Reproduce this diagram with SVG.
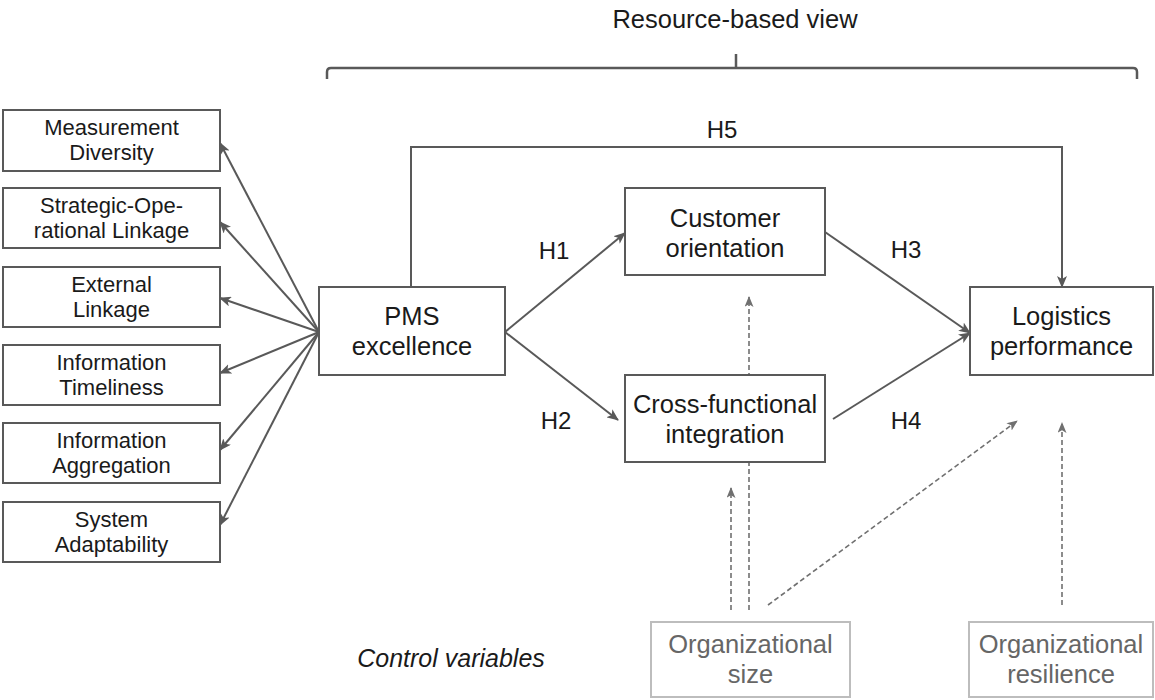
<svg xmlns="http://www.w3.org/2000/svg" width="1155" height="700" viewBox="0 0 1155 700">
<defs>
<style>
text{font-family:"Liberation Sans",Arial,sans-serif;fill:#1a1a1a;text-anchor:middle}
.box{fill:#fff;stroke:#595959;stroke-width:2}
.cbox{fill:#fff;stroke:#bdbdbd;stroke-width:2}
.m{font-size:25.5px}
.s{font-size:22px}
.h{font-size:24px}
.c{font-size:25.5px;fill:#666}
.ln{fill:none;stroke:#595959;stroke-width:2}
.dl{fill:none;stroke:#707070;stroke-width:1.6;stroke-dasharray:5 3}
</style>
<marker id="ah" viewBox="0 0 12 10" refX="11" refY="5" markerWidth="12" markerHeight="10" markerUnits="userSpaceOnUse" orient="auto">
<path d="M0,0 L12,5 L0,10 L3,5 z" fill="#595959"/>
</marker>
<marker id="ahd" viewBox="0 0 12 10" refX="11" refY="5" markerWidth="11" markerHeight="9" markerUnits="userSpaceOnUse" orient="auto">
<path d="M0,0 L12,5 L0,10 L3,5 z" fill="#707070"/>
</marker>
</defs>
<rect width="1155" height="700" fill="#fff"/>

<g id="rbv">
<text x="735" y="28" style="font-size:25.5px">Resource-based view</text>
<path d="M327,79 V72 Q327,68 331,68 H1133 Q1137,68 1137,72 V79 M736,68 V54" fill="none" stroke="#595959" stroke-width="2.5"/>
</g>

<g id="connectors">
<line class="ln" x1="319" y1="332" x2="220" y2="143" marker-end="url(#ah)"/>
<line class="ln" x1="319" y1="332" x2="220" y2="222" marker-end="url(#ah)"/>
<line class="ln" x1="319" y1="332" x2="220" y2="298" marker-end="url(#ah)"/>
<line class="ln" x1="319" y1="332" x2="220" y2="373" marker-end="url(#ah)"/>
<line class="ln" x1="319" y1="332" x2="220" y2="450" marker-end="url(#ah)"/>
<line class="ln" x1="319" y1="332" x2="220" y2="525" marker-end="url(#ah)"/>
<polyline class="ln" points="411,287 411,147 1062,147 1062,287" marker-end="url(#ah)"/>
<line class="ln" x1="505" y1="332" x2="625" y2="233" marker-end="url(#ah)"/>
<line class="ln" x1="505" y1="332" x2="618" y2="420" marker-end="url(#ah)"/>
<line class="ln" x1="825" y1="232" x2="970" y2="333" marker-end="url(#ah)"/>
<line class="ln" x1="833" y1="419" x2="970" y2="333" marker-end="url(#ah)"/>
<line class="dl" x1="731" y1="610" x2="731" y2="488" marker-end="url(#ahd)"/>
<line class="dl" x1="749" y1="610" x2="749" y2="297" marker-end="url(#ahd)"/>
<line class="dl" x1="768" y1="605" x2="1017" y2="421" marker-end="url(#ahd)"/>
<line class="dl" x1="1062" y1="605" x2="1062" y2="423" marker-end="url(#ahd)"/>
<text class="h" x="722" y="138">H5</text>
<text class="h" x="554" y="259">H1</text>
<text class="h" x="556" y="429">H2</text>
<text class="h" x="906" y="258">H3</text>
<text class="h" x="906" y="429">H4</text>
</g>

<g id="measurement-diversity">
<rect class="box" x="3" y="110" width="217" height="61"/>
<text class="s" x="111.5" y="135">Measurement</text>
<text class="s" x="111.5" y="160">Diversity</text>
</g>
<g id="strategic-operational-linkage">
<rect class="box" x="3" y="188" width="217" height="60"/>
<text class="s" x="111.5" y="213">Strategic-Ope-</text>
<text class="s" x="111.5" y="238">rational Linkage</text>
</g>
<g id="external-linkage">
<rect class="box" x="3" y="267" width="217" height="60"/>
<text class="s" x="111.5" y="292">External</text>
<text class="s" x="111.5" y="317">Linkage</text>
</g>
<g id="information-timeliness">
<rect class="box" x="3" y="345" width="217" height="60"/>
<text class="s" x="111.5" y="370">Information</text>
<text class="s" x="111.5" y="395">Timeliness</text>
</g>
<g id="information-aggregation">
<rect class="box" x="3" y="423" width="217" height="60"/>
<text class="s" x="111.5" y="448">Information</text>
<text class="s" x="111.5" y="473">Aggregation</text>
</g>
<g id="system-adaptability">
<rect class="box" x="3" y="502" width="217" height="60"/>
<text class="s" x="111.5" y="527">System</text>
<text class="s" x="111.5" y="552">Adaptability</text>
</g>

<g id="pms-excellence">
<rect class="box" x="319" y="287" width="186" height="88"/>
<text class="m" x="412" y="325">PMS</text>
<text class="m" x="412" y="355">excellence</text>
</g>
<g id="customer-orientation">
<rect class="box" x="625" y="188" width="200" height="87"/>
<text class="m" x="725" y="227">Customer</text>
<text class="m" x="725" y="257">orientation</text>
</g>
<g id="cross-functional-integration">
<rect class="box" x="625" y="375" width="200" height="87"/>
<text class="m" x="725" y="413">Cross-functional</text>
<text class="m" x="725" y="443">integration</text>
</g>
<g id="logistics-performance">
<rect class="box" x="970" y="287" width="183" height="88"/>
<text class="m" x="1061.5" y="325">Logistics</text>
<text class="m" x="1061.5" y="355">performance</text>
</g>

<g id="control-variables">
<text x="451" y="667" style="font-size:25px;font-style:italic">Control variables</text>
</g>
<g id="organizational-size">
<rect class="cbox" x="651" y="622" width="199" height="75"/>
<text class="c" x="750.5" y="653">Organizational</text>
<text class="c" x="750.5" y="683">size</text>
</g>
<g id="organizational-resilience">
<rect class="cbox" x="969" y="622" width="184" height="75"/>
<text class="c" x="1061" y="653">Organizational</text>
<text class="c" x="1061" y="683">resilience</text>
</g>
</svg>
